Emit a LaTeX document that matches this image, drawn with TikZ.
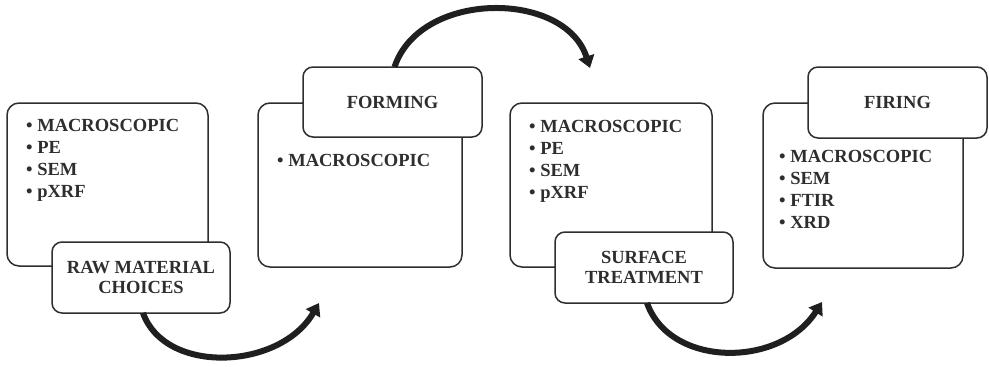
\documentclass[tikz,border=0pt]{standalone}
\usepackage{fontspec}
\setmainfont{Liberation Serif}
\usetikzlibrary{arrows.meta}
\definecolor{ink}{HTML}{2E2E2E}
\begin{document}
\begin{tikzpicture}[x=1pt,y=-1pt,
  bigbox/.style={draw=ink, line width=1.5pt, rounded corners=12pt, fill=white, inner sep=0},
  tagbox/.style={draw=ink, line width=1.5pt, rounded corners=10pt, fill=white, align=center, inner sep=0,
    font=\fontsize{18.5}{19.5}\selectfont\bfseries, text=ink},
  items/.style={anchor=north west, inner sep=0, align=left, font=\fontsize{18.5}{22}\selectfont\bfseries, text=ink},
  flow/.style={line width=6pt, draw=black!88, -{Triangle[width=16pt,length=12pt]}}
]
\useasboundingbox (0,0) rectangle (989,367);

\node[bigbox, minimum width=201pt, minimum height=163pt] (box1) at (107.5,184.5) {};
\node[bigbox, minimum width=204pt, minimum height=164pt] (box2) at (360,185) {};
\node[bigbox, minimum width=202pt, minimum height=164pt] (box3) at (611,185) {};
\node[bigbox, minimum width=200pt, minimum height=165pt] (box4) at (863,185.5) {};

\node[items] (list1) at (26,119) {\textbullet\ MACROSCOPIC\\ \textbullet\ PE\\ \textbullet\ SEM\\ \textbullet\ pXRF};
\node[items] (list2) at (277,154) {\textbullet\ MACROSCOPIC};
\node[items] (list3) at (529,120) {\textbullet\ MACROSCOPIC\\ \textbullet\ PE\\ \textbullet\ SEM\\ \textbullet\ pXRF};
\node[items] (list4) at (779,150) {\textbullet\ MACROSCOPIC\\ \textbullet\ SEM\\ \textbullet\ FTIR\\ \textbullet\ XRD};

\node[tagbox, minimum width=178pt, minimum height=71pt] (tag1) at (141,277.5) {RAW MATERIAL\\CHOICES};
\node[tagbox, minimum width=179pt, minimum height=70pt] (tag2) at (392.5,102) {FORMING};
\node[tagbox, minimum width=178pt, minimum height=71pt] (tag3) at (644,267.5) {SURFACE\\TREATMENT};
\node[tagbox, minimum width=179pt, minimum height=71pt] (tag4) at (897.5,102.5) {FIRING};

\coordinate (e1) at (319,303);
\coordinate (e2) at (590,68);
\coordinate (e3) at (822,302);

\draw[flow] ([xshift=2pt,yshift=0.8pt]tag1.south) .. controls (165,375) and (280,370) .. (e1);
\draw[flow] ([xshift=2pt,yshift=-0.8pt]tag2.north) .. controls (420,-10) and (565,-10) .. (e2);
\draw[flow] ([xshift=3pt,yshift=0.8pt]tag3.south) .. controls (670,368) and (780,368) .. (e3);
\end{tikzpicture}
\end{document}
